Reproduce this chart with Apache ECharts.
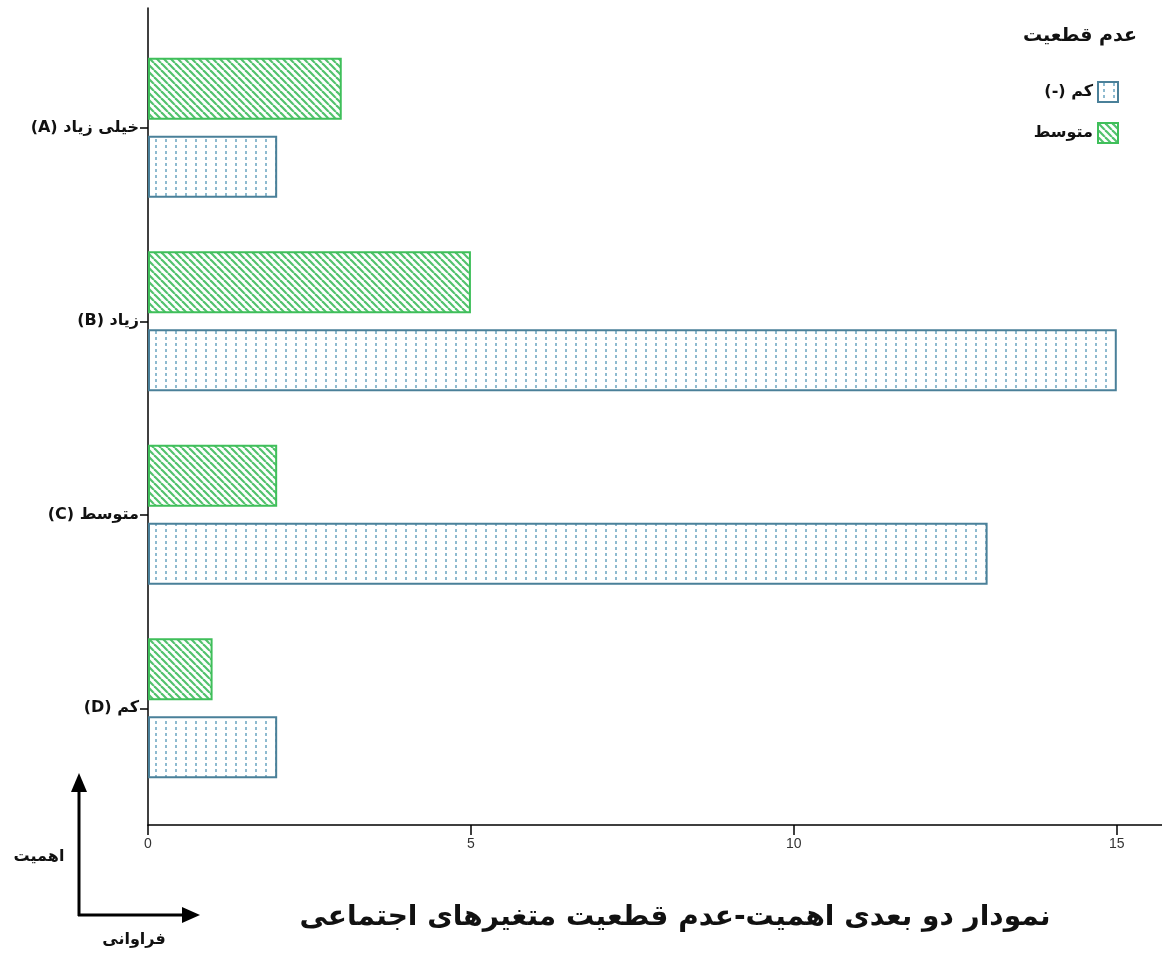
<!DOCTYPE html>
<html lang="fa">
<head>
<meta charset="utf-8">
<script src="https://cdn.jsdelivr.net/npm/echarts@6/dist/echarts.min.js"></script>
<style>
html,body{margin:0;padding:0;background:#fff;}
#chart{width:1162px;height:953px;}
</style>
</head>
<body>
<div id="chart" dir="rtl"></div>
<script>
// ---- data ----
const categories = ['خیلی زیاد (A)', 'زیاد (B)', 'متوسط (C)', 'کم (D)'];
const seriesNames = ['کم (-)', 'متوسط'];
const lowValues = [2, 15, 13, 2];      // کم (-)
const mediumValues = [3, 5, 2, 1];     // متوسط
const xInterval = 5;
const xMax = 15.7;
const legendTitle = 'عدم قطعیت';
const chartTitle = 'نمودار دو بعدی اهمیت-عدم قطعیت متغیرهای اجتماعی';
const yArrowLabel = 'اهمیت';
const xArrowLabel = 'فراوانی';

// ---- patterns ----
function hatchPattern() {
  const s = 7;
  const c = document.createElement('canvas');
  c.width = s; c.height = s;
  const g = c.getContext('2d');
  g.fillStyle = '#ffffff'; g.fillRect(0, 0, s, s);
  g.strokeStyle = '#52c26d'; g.lineWidth = 2.2;
  for (let k = -1; k <= 1; k++) {
    g.beginPath(); g.moveTo(k * s, 0); g.lineTo(k * s + s, s); g.stroke();
  }
  return c;
}
function dotPattern() {
  const c = document.createElement('canvas');
  c.width = 10; c.height = 6;
  const g = c.getContext('2d');
  g.fillStyle = '#ffffff'; g.fillRect(0, 0, 10, 6);
  g.fillStyle = '#8fbbd0'; g.fillRect(5, 1, 2, 3);
  return c;
}

const persianFont = 'DejaVu Sans';
const chart = echarts.init(document.getElementById('chart'), null, { renderer: 'canvas' });

const option = {
  animation: false,
  backgroundColor: '#ffffff',
  grid: [
    { left: 148, right: 0, top: 31, bottom: 148 },
    { left: 148, right: 0, top: 8, bottom: 128 }
  ],
  xAxis: [
    {
      type: 'value', gridIndex: 0, min: 0, max: xMax, interval: xInterval,
      position: 'bottom', offset: 20,
      axisLine: { show: true, onZero: false, lineStyle: { color: '#000', width: 1.5 } },
      axisTick: { show: true, inside: false, length: 10, lineStyle: { color: '#000', width: 1.5 } },
      axisLabel: { showMaxLabel: false, color: '#333', fontSize: 14, fontFamily: 'Liberation Sans', margin: 12 },
      splitLine: { show: false }
    },
    { type: 'value', gridIndex: 1, min: 0, max: xMax, show: false }
  ],
  yAxis: [
    {
      type: 'category', gridIndex: 0, inverse: true, data: categories,
      axisLine: { show: false },
      axisTick: { show: true, alignWithLabel: true, length: 8, lineStyle: { color: '#000', width: 1.5 } },
      axisLabel: { color: '#111', fontSize: 16, fontWeight: 'bold', fontFamily: persianFont, margin: 9 }
    },
    {
      type: 'value', gridIndex: 1, min: 0, max: 1,
      axisLine: { show: true, lineStyle: { color: '#000', width: 1.5 } },
      axisTick: { show: false }, axisLabel: { show: false }, splitLine: { show: false }
    }
  ],
  legend: {
    data: seriesNames,
    orient: 'vertical',
    right: 38, top: 76,
    align: 'right',
    icon: 'rect',
    itemWidth: 20, itemHeight: 20, itemGap: 19,
    textStyle: { fontSize: 16, fontWeight: 'bold', color: '#111', fontFamily: persianFont }
  },
  series: [
    {
      name: seriesNames[1], type: 'bar', xAxisIndex: 0, yAxisIndex: 0,
      data: mediumValues, barWidth: 62, barGap: '26%',
      itemStyle: { color: { image: hatchPattern(), repeat: 'repeat' }, borderColor: '#3fbf5a', borderWidth: 2 }
    },
    {
      name: seriesNames[0], type: 'bar', xAxisIndex: 0, yAxisIndex: 0,
      data: lowValues, barWidth: 62, barGap: '26%',
      itemStyle: { color: { image: dotPattern(), repeat: 'repeat' }, borderColor: '#4a8099', borderWidth: 2 }
    }
  ],
  graphic: [
    { type: 'text', right: 25, top: 27, style: { text: legendTitle, fill: '#111', font: 'bold 19px "DejaVu Sans"' } },
    { type: 'text', x: 675, y: 918, style: { text: chartTitle, textAlign: 'center', textVerticalAlign: 'middle', fill: '#111', font: 'bold 28px "DejaVu Sans"' } },
    // annotation arrows
    { type: 'line', shape: { x1: 79, y1: 916, x2: 79, y2: 790 }, style: { stroke: '#000', lineWidth: 3 } },
    { type: 'polygon', shape: { points: [[79, 773], [71, 792], [87, 792]] }, style: { fill: '#000' } },
    { type: 'line', shape: { x1: 78, y1: 915, x2: 184, y2: 915 }, style: { stroke: '#000', lineWidth: 3 } },
    { type: 'polygon', shape: { points: [[200, 915], [182, 907], [182, 923]] }, style: { fill: '#000' } },
    { type: 'text', x: 39, y: 857, style: { text: yArrowLabel, textAlign: 'center', textVerticalAlign: 'middle', fill: '#111', font: 'bold 16px "DejaVu Sans"' } },
    { type: 'text', x: 134, y: 940, style: { text: xArrowLabel, textAlign: 'center', textVerticalAlign: 'middle', fill: '#111', font: 'bold 16px "DejaVu Sans"' } }
  ]
};
chart.setOption(option);
</script>
</body>
</html>
